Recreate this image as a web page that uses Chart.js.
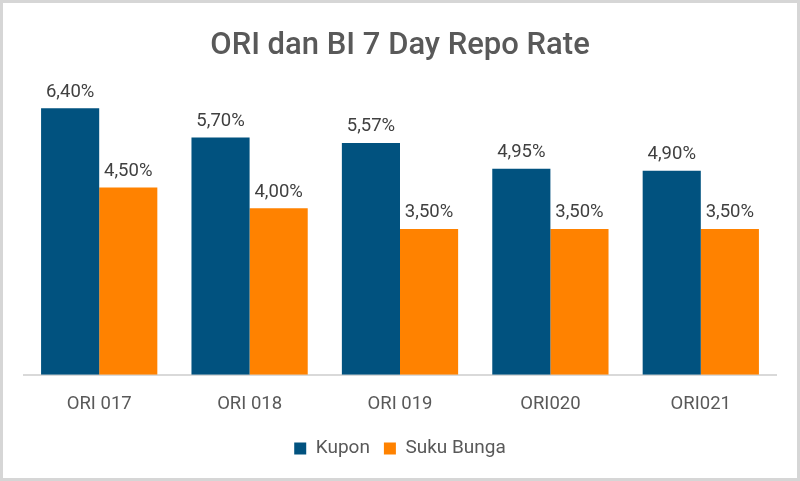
<!DOCTYPE html>
<html lang="id">
<head>
<meta charset="UTF-8">
<title>ORI dan BI 7 Day Repo Rate</title>
<style>
    html, body { margin: 0; padding: 0; background: #fff; }
    .frame { position: relative; width: 800px; height: 481px; background: #fff; box-shadow: inset 0 0 0 3px #d6d6d6; }
    canvas { position: absolute; left: 0; top: 0; }
</style>
</head>
<body>
<div class="frame">
    <canvas id="rateChart" width="800" height="481"></canvas>
</div>

<script src="https://cdn.jsdelivr.net/npm/chart.js"></script>
<script>
const categories = ['ORI 017', 'ORI 018', 'ORI 019', 'ORI020', 'ORI021'];
const kupon = [6.40, 5.70, 5.57, 4.95, 4.90];
const sukuBunga = [4.50, 4.00, 3.50, 3.50, 3.50];

// draw the value labels on top of each bar
const barLabels = {
    id: 'barLabels',
    afterDatasetsDraw(chart) {
        const ctx = chart.ctx;
        ctx.save();
        ctx.font = '18.5px Roboto, sans-serif';
        ctx.fillStyle = '#404040';
        ctx.textAlign = 'center';
        ctx.textBaseline = 'bottom';
        chart.data.datasets.forEach((ds, i) => {
            chart.getDatasetMeta(i).data.forEach((bar, j) => {
                const txt = ds.data[j].toFixed(2).replace('.', ',') + '%';
                ctx.fillText(txt, bar.x, bar.y - 7);
            });
        });
        ctx.restore();
    }
};

new Chart(document.getElementById('rateChart'), {
    type: 'bar',
    data: {
        labels: categories,
        datasets: [
            { label: 'Kupon', data: kupon, backgroundColor: '#01527f' },
            { label: 'Suku Bunga', data: sukuBunga, backgroundColor: '#ff8200' }
        ]
    },
    options: {
        responsive: false,
        animation: false,
        layout: { padding: { left: 24, right: 24, top: 0, bottom: 13 } },
        datasets: { bar: { categoryPercentage: 0.773, barPercentage: 1.0 } },
        scales: {
            x: {
                grid: { display: false },
                border: { display: true, color: '#d9d9d9', width: 2 },
                ticks: { color: '#595959', font: { family: 'Roboto', size: 18.5 }, padding: 10 }
            },
            y: { display: false, min: 0, max: 6.98 }
        },
        plugins: {
            title: {
                display: true,
                text: 'ORI dan BI 7 Day Repo Rate',
                color: '#595959',
                font: { family: 'Roboto', size: 31, weight: '500' },
                padding: { top: 28, bottom: 19 }
            },
            legend: {
                position: 'bottom',
                labels: {
                    color: '#595959',
                    font: { family: 'Roboto', size: 19 },
                    boxWidth: 12, boxHeight: 12, padding: 14
                }
            },
            tooltip: { enabled: false }
        }
    },
    plugins: [barLabels]
});
</script>
</body>
</html>
